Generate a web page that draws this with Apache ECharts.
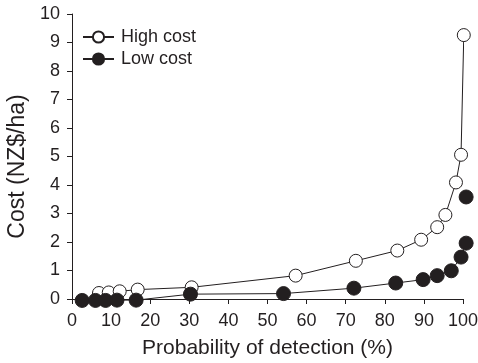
<!DOCTYPE html>
<html><head><meta charset="utf-8">
<script src="https://cdn.jsdelivr.net/npm/echarts@6/dist/echarts.min.js"></script>
<style>html,body{margin:0;padding:0;background:#fff}#c{width:478px;height:363px}</style>
</head><body><div id="c"></div>
<script>
const highX = [6.9, 9.4, 12.2, 16.8, 30.6, 57.2, 72.6, 83.2, 89.3, 93.4, 95.5, 98.2, 99.5, 100.2];
const highY = [0.21, 0.23, 0.27, 0.33, 0.41, 0.82, 1.34, 1.70, 2.08, 2.52, 2.95, 4.09, 5.06, 9.26];
const lowX = [2.6, 6.0, 8.6, 11.5, 16.4, 30.3, 54.1, 72.1, 82.8, 89.8, 93.4, 97.0, 99.5, 100.8, 100.8];
const lowY = [-0.05, -0.05, -0.05, -0.04, -0.04, 0.17, 0.19, 0.38, 0.56, 0.68, 0.82, 0.99, 1.47, 1.96, 3.58];
const xTicks = [0, 10, 20, 30, 40, 50, 60, 70, 80, 90, 100];
const yTicks = [0, 1, 2, 3, 4, 5, 6, 7, 8, 9, 10];
const seriesNames = ['High cost', 'Low cost'];
const xTitle = 'Probability of detection (%)';
const yTitle = 'Cost (NZ$/ha)';

const font = 'Liberation Sans, Arial, Helvetica, sans-serif';
const ink = '#231f20';
const chart = echarts.init(document.getElementById('c'));
chart.setOption({
  animation: false,
  grid: {left: 72, right: 15, top: 14, bottom: 64, containLabel: false, outerBoundsMode: 'none'},
  legend: {
    left: 82, top: 26, orient: 'vertical', itemGap: 0, padding: 0,
    itemWidth: 31, itemHeight: 14,
    textStyle: {fontFamily: font, fontSize: 18, lineHeight: 22, color: ink, padding: [0, 0, 0, 2]},
    data: seriesNames
  },
  xAxis: {
    type: 'value', min: xTicks[0], max: xTicks[xTicks.length - 1], interval: 10,
    name: xTitle, nameLocation: 'middle', nameGap: 39,
    nameTextStyle: {fontFamily: font, fontSize: 21, color: ink},
    axisLine: {lineStyle: {color: ink, width: 1}},
    axisTick: {show: true, length: 5, lineStyle: {color: ink}},
    axisLabel: {fontFamily: font, fontSize: 18, color: ink, margin: 13},
    splitLine: {show: false}
  },
  yAxis: {
    type: 'value', min: yTicks[0], max: yTicks[yTicks.length - 1], interval: 1,
    name: yTitle, nameLocation: 'middle', nameGap: 43, nameRotate: 90,
    nameTextStyle: {fontFamily: font, fontSize: 23, color: ink, padding: [0, 20, 0, 0]},
    axisLine: {show: true, lineStyle: {color: ink, width: 1}},
    axisTick: {show: true, length: 5, lineStyle: {color: ink}},
    axisLabel: {fontFamily: font, fontSize: 18, color: ink, margin: 12},
    splitLine: {show: false}
  },
  series: [
    {
      name: seriesNames[0], type: 'line', clip: false,
      data: highX.map((x, i) => [x, highY[i]]),
      symbol: 'circle', symbolSize: 13,
      lineStyle: {color: ink, width: 1},
      itemStyle: {color: '#fff', borderColor: ink, borderWidth: 1},
      z: 3
    },
    {
      name: seriesNames[1], type: 'line', clip: false,
      data: lowX.map((x, i) => [x, lowY[i]]),
      symbol: 'circle', symbolSize: 14,
      lineStyle: {color: ink, width: 1},
      itemStyle: {color: ink, borderColor: ink, borderWidth: 1},
      z: 4
    }
  ]
});
</script></body></html>
